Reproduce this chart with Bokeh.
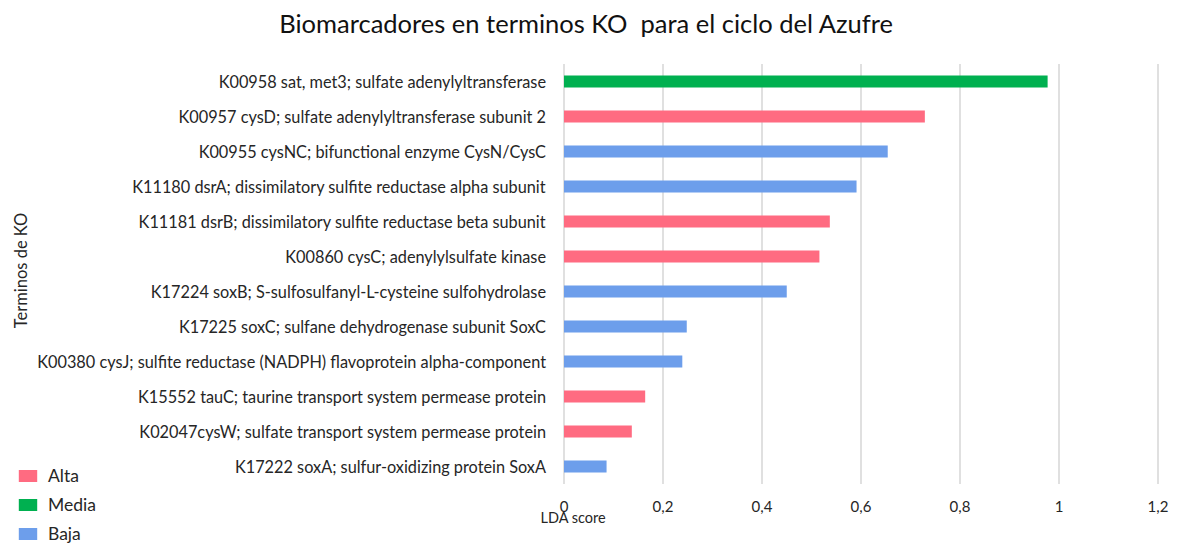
from bokeh.plotting import figure
from bokeh.models import Range1d, Label, Legend, LegendItem, ColumnDataSource
from bokeh.core.properties import value
from bokeh.embed import file_html
from bokeh.resources import INLINE
import math

terms = [
    "K00958 sat, met3; sulfate adenylyltransferase",
    "K00957 cysD; sulfate adenylyltransferase subunit 2",
    "K00955 cysNC; bifunctional enzyme CysN/CysC",
    "K11180 dsrA; dissimilatory sulfite reductase alpha subunit",
    "K11181 dsrB; dissimilatory sulfite reductase beta subunit",
    "K00860 cysC; adenylylsulfate kinase",
    "K17224 soxB; S-sulfosulfanyl-L-cysteine sulfohydrolase",
    "K17225 soxC; sulfane dehydrogenase subunit SoxC",
    "K00380 cysJ; sulfite reductase (NADPH) flavoprotein alpha-component",
    "K15552 tauC; taurine transport system permease protein",
    "K02047cysW; sulfate transport system permease protein",
    "K17222 soxA; sulfur-oxidizing protein SoxA",
]
lda_score = [0.977, 0.729, 0.654, 0.591, 0.537, 0.516, 0.450, 0.248, 0.239, 0.164, 0.137, 0.086]
level = ["Media", "Alta", "Baja", "Baja", "Alta", "Alta", "Baja", "Baja", "Baja", "Alta", "Alta", "Baja"]
levels = ["Alta", "Media", "Baja"]
level_colors = {"Alta": "#FF6B81", "Media": "#00B050", "Baja": "#6D9EEB"}
x_ticks = [0, 0.2, 0.4, 0.6, 0.8, 1.0, 1.2]
x_tick_labels = ["0", "0,2", "0,4", "0,6", "0,8", "1", "1,2"]

FONT = "Lato"
TXT = "#262626"
GRID = "#d9d9d9"

W, H = 1179, 545
# plot-area geometry (pixels)
PX_LEFT, PX_RIGHT, PX_TOP, PX_BOTTOM = 563.5, 1157.5, 63.5, 483.5
n = len(terms)
xmax = x_ticks[-1]
ppu_x = (PX_RIGHT - PX_LEFT) / xmax
ppu_y = (PX_BOTTOM - PX_TOP) / n
x_start = -PX_LEFT / ppu_x
x_end = xmax + (W - PX_RIGHT) / ppu_x
y_bottom = -0.5 - (H - PX_BOTTOM) / ppu_y
y_top = n - 0.5 + PX_TOP / ppu_y

p = figure(width=W, height=H, output_backend="svg", toolbar_location=None,
           x_range=Range1d(x_start, x_end), y_range=Range1d(y_bottom, y_top),
           x_axis_location=None, y_axis_location=None, min_border=0)
p.outline_line_color = None
p.xgrid.visible = False
p.ygrid.visible = False

rows = [n - 1 - i for i in range(n)]  # first term on top

# grid lines (incl. the axis line at 0)
p.segment(x0=x_ticks, x1=x_ticks, y0=-0.5, y1=n - 0.5, line_color=GRID, line_width=1.6)

renderers = {}
for lv in levels:
    idx = [i for i, l in enumerate(level) if l == lv]
    src = ColumnDataSource(dict(y=[rows[i] for i in idx], x=[lda_score[i] for i in idx]))
    renderers[lv] = p.hbar(y="y", right="x", left=0, height=0.343, source=src,
                           fill_color=level_colors[lv], line_color=None)

# category labels (y axis)
p.text(x=-18 / ppu_x, y=rows, text=terms, text_align="right", text_baseline="middle",
       text_font=value(FONT), text_font_size="16.3px", text_color=TXT)
# x tick labels
p.text(x=x_ticks, y=-0.5 - 22 / ppu_y, text=x_tick_labels, text_align="center",
       text_baseline="middle", text_font=value(FONT), text_font_size="15px", text_color=TXT)

# title
p.add_layout(Label(x=586, y=H - 22, x_units="screen", y_units="screen",
                   text="Biomarcadores en terminos KO \u00a0para el ciclo del Azufre",
                   text_font=FONT, text_font_size="25.5px", text_color="#111111",
                   text_align="center", text_baseline="middle"))
# y-axis title
p.add_layout(Label(x=20, y=H - 270, x_units="screen", y_units="screen",
                   text="Terminos de KO", angle=math.pi / 2,
                   text_font=FONT, text_font_size="16.5px", text_color=TXT,
                   text_align="center", text_baseline="middle"))
# x-axis title
p.add_layout(Label(x=540, y=H - 517, x_units="screen", y_units="screen",
                   text="LDA score",
                   text_font=FONT, text_font_size="14.5px", text_color=TXT,
                   text_align="left", text_baseline="middle"))

legend = Legend(items=[LegendItem(label=lv, renderers=[renderers[lv]]) for lv in levels],
                location=(16, 1), orientation="vertical",
                glyph_width=23, glyph_height=15, label_height=15, spacing=8,
                label_standoff=9, padding=0, margin=0,
                border_line_color=None, background_fill_alpha=0,
                label_text_font=FONT, label_text_font_size="17.5px", label_text_color=TXT)
p.add_layout(legend, "center")

open("out.html", "w").write(file_html(p, INLINE))
